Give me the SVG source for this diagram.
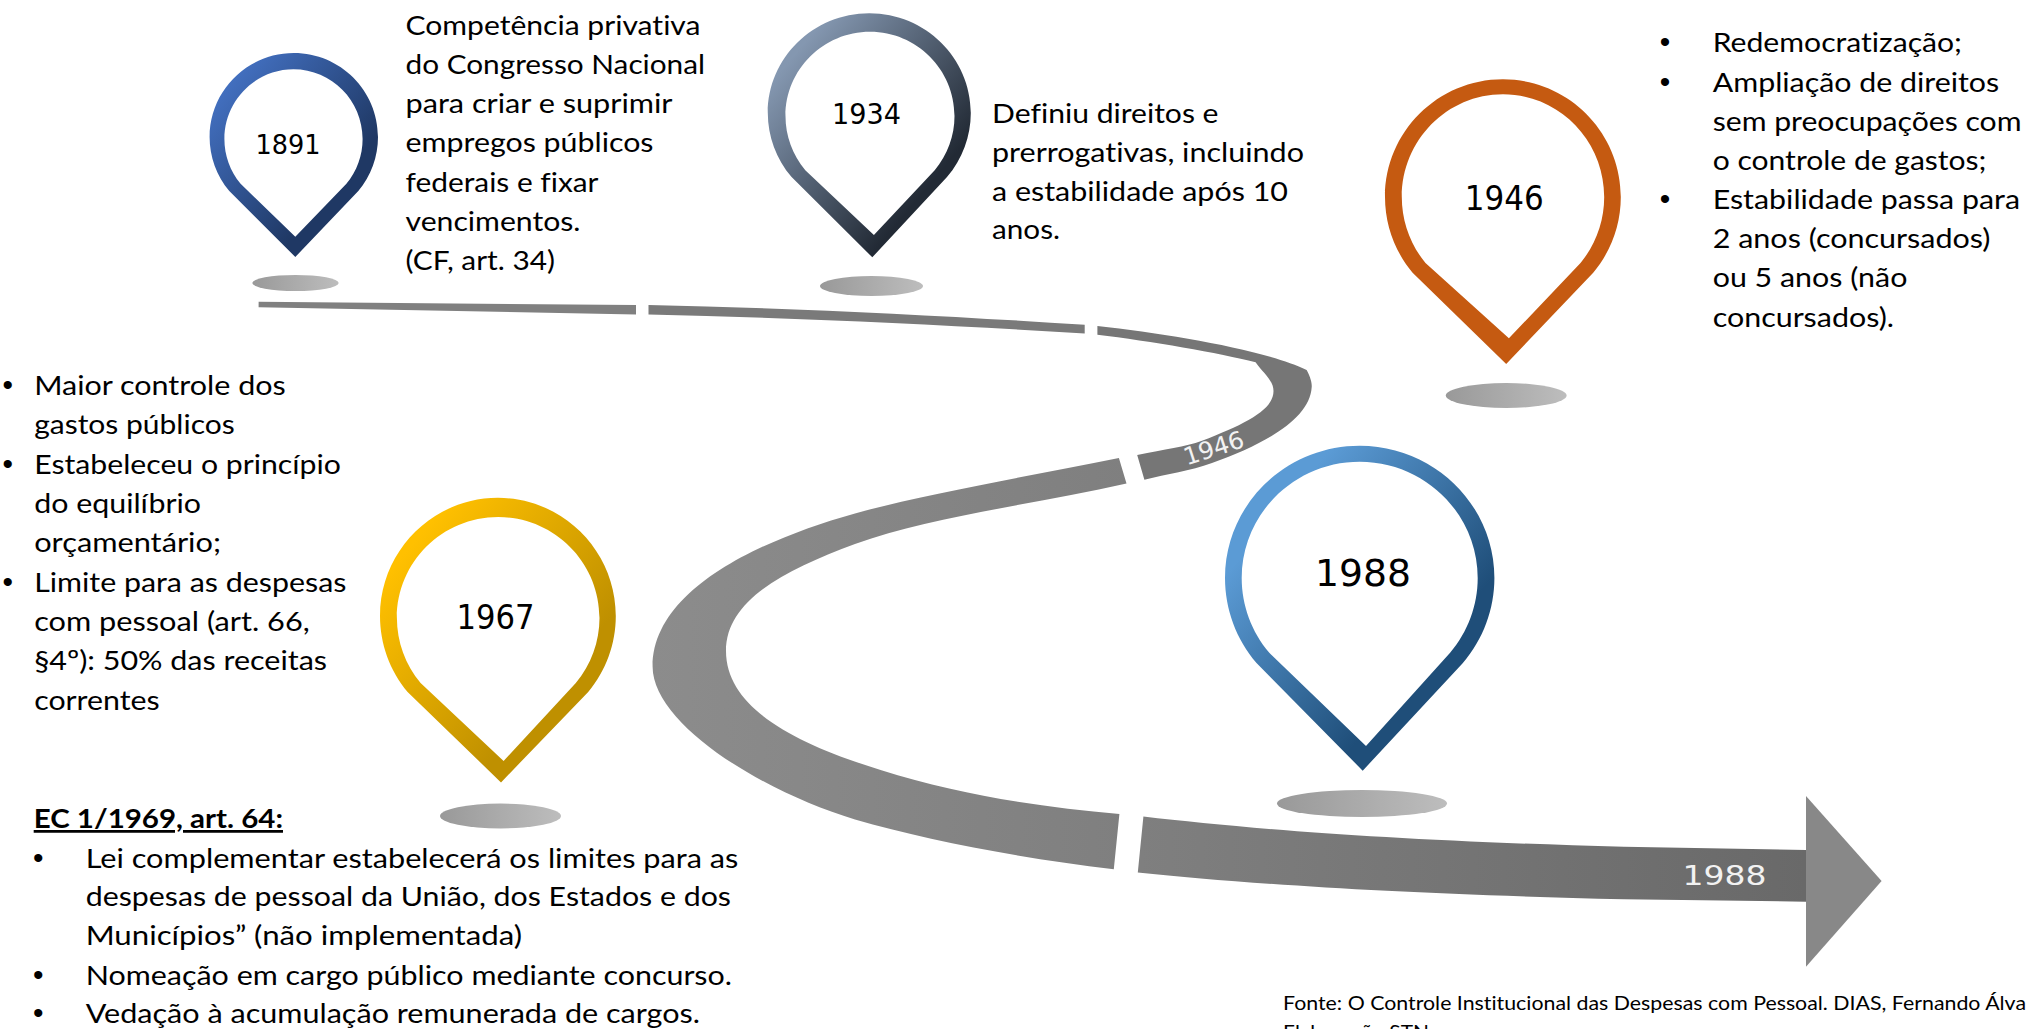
<svg xmlns="http://www.w3.org/2000/svg" width="2026" height="1029" viewBox="0 0 2026 1029">
<style>
text{font-family:"Lato","Noto Sans",sans-serif;fill:#000;font-variant-ligatures:none}
.b{font-size:27.5px}
.d{font-family:"Liberation Sans",sans-serif;font-size:30px}
.y{font-family:"DejaVu Sans",sans-serif}
.w{fill:#f2f2f2}
.f{font-size:20px}
</style>
<defs>
<linearGradient id="g1891" x1="0" y1="0" x2="1" y2="1"><stop offset=".1" stop-color="#4472c4"/><stop offset=".7" stop-color="#1f3864"/></linearGradient>
<linearGradient id="g1934" x1="0" y1="0" x2="1" y2="1"><stop offset=".15" stop-color="#8497b0"/><stop offset=".75" stop-color="#222a35"/></linearGradient>
<linearGradient id="g1967" x1="0" y1="0" x2="1" y2="1"><stop offset=".15" stop-color="#ffc000"/><stop offset=".7" stop-color="#bf9000"/></linearGradient>
<linearGradient id="g1988" x1="0" y1="0" x2="1" y2="1"><stop offset=".2" stop-color="#5b9bd5"/><stop offset=".7" stop-color="#1f4e79"/></linearGradient>
<linearGradient id="sh"><stop offset="0" stop-color="#999"/><stop offset="1" stop-color="#bdbdbd"/></linearGradient>
<linearGradient id="mid" gradientUnits="userSpaceOnUse" x1="650" y1="0" x2="1130" y2="0"><stop offset="0" stop-color="#8c8c8c"/><stop offset="1" stop-color="#7f7f7f"/></linearGradient>
<linearGradient id="end" gradientUnits="userSpaceOnUse" x1="1140" y1="0" x2="1806" y2="0"><stop offset="0" stop-color="#7f7f7f"/><stop offset="1" stop-color="#696969"/></linearGradient>
</defs>
<g id="connectors">
<path fill="#808080" d="M258.6 301.7 L636 305 V314.4 L258.6 307.3Z"/>
<path fill="#7a7a7a" d="M648.5 305 C800 308 950 316 1084.7 324.8 V333.6 C950 325 800 318 648.5 314.4Z"/>
<path fill="#767676" d="M1097.4 326 C1170 334 1265 350 1306.6 370 C1311 378 1312 384 1311.7 387 C1310 420 1262 445 1212 463 C1190 471 1167 474 1144.4 479.8 L1137.2 454.9 C1165 449 1185 447 1202 440.7 C1245 424 1273.5 410 1273.5 391 C1273.5 380 1262 372 1255.6 362.3 C1220 353 1150 341 1097.4 334.7Z"/>
<path fill="url(#mid)" d="M1118.9 458 C1030 476 925 493.8 855 513.4 C755 541.4 652.6 591.5 652.6 666.5 C652.6 725 765 792.6 855 819.6 C925 840 1020 858 1113.8 869.3 L1119.4 813.9 C1040 807 960 795 880.6 770 C800 745 726 710 726 651 C726 600 785 570 855 544 C930 517 1030 505 1126.5 483.6Z"/>
<path fill="url(#end)" d="M1143.4 816.5 C1250 829 1400 841 1624 846.7 L1806 850 V901.7 L1624 899.3 C1400 894 1250 884 1137.8 872.4Z"/>
<path fill="#888" d="M1806 796 L1881.6 881 L1806 966.7Z"/>
</g>
<g id="pin-1891">
<ellipse cx="295.5" cy="283" rx="43.2" ry="8" fill="url(#sh)"/>
<path fill="url(#g1891)" fill-rule="evenodd" d="M293.8 53 C340.3 53 378 90.6 378 137 C378 156.7 371 175.9 358.3 191 L295.3 257 L229.3 191 C216.6 175.9 209.6 156.7 209.6 137 C209.6 90.6 247.3 53 293.8 53Z M293.5 69.3 C331.6 69.3 362.6 100.5 362.6 139 C362.6 155.4 356.9 171.3 346.4 183.8 L295.3 236.7 L240.6 183.8 C230.1 171.3 224.4 155.4 224.4 139 C224.4 100.5 255.4 69.3 293.5 69.3Z"/>
<text class="y" x="255.5" y="154.3" font-size="27" textLength="65" lengthAdjust="spacingAndGlyphs">1891</text>
</g>
<g id="pin-1934">
<ellipse cx="871.5" cy="286" rx="51.5" ry="10" fill="url(#sh)"/>
<path fill="url(#g1934)" fill-rule="evenodd" d="M869.3 13.3 C925.3 13.3 970.8 58 970.8 113 C970.8 136.4 962.4 159.2 947 177.1 L872.3 257.3 L791.6 177.1 C776.2 159.2 767.8 136.4 767.8 113 C767.8 58 813.3 13.3 869.3 13.3Z M870 31.7 C916.6 31.7 954.5 69.5 954.5 116 C954.5 135.8 947.5 155 934.7 170.2 L873.9 235 L805.3 170.2 C792.5 155 785.5 135.8 785.5 116 C785.5 69.5 823.4 31.7 870 31.7Z"/>
<text class="y" x="832" y="124" font-size="28" textLength="69" lengthAdjust="spacingAndGlyphs">1934</text>
</g>
<g id="pin-1946">
<ellipse cx="1506.2" cy="395.5" rx="60.4" ry="12.5" fill="url(#sh)"/>
<path fill="#c55a11" fill-rule="evenodd" d="M1502.9 79.3 C1567.9 79.3 1620.8 132 1620.8 197 C1620.8 224.7 1611 251.5 1593.2 272.7 L1506.2 364 L1412.6 272.7 C1394.8 251.5 1385 224.7 1385 197 C1385 132 1437.9 79.3 1502.9 79.3Z M1503 94.3 C1558.9 94.3 1604.2 140.3 1604.2 197 C1604.2 221.1 1595.8 244.5 1580.5 263 L1508.9 338.3 L1425.5 263 C1410.2 244.5 1401.8 221.1 1401.8 197 C1401.8 140.3 1447.1 94.3 1503 94.3Z"/>
<text class="y" x="1464.7" y="210" font-size="33" textLength="79" lengthAdjust="spacingAndGlyphs">1946</text>
</g>
<g id="pin-1967">
<ellipse cx="500.5" cy="816" rx="60.5" ry="12.4" fill="url(#sh)"/>
<path fill="url(#g1967)" fill-rule="evenodd" d="M497.9 497.8 C562.9 497.8 615.8 550.8 615.8 616 C615.8 643.8 606 670.7 588.2 692 L501 782.4 L407.6 692 C389.8 670.7 380 643.8 380 616 C380 550.8 432.9 497.8 497.9 497.8Z M498.2 517 C554.1 517 599.5 562.2 599.5 618 C599.5 641.7 591.1 664.8 575.8 682.9 L503.6 761 L420.6 682.9 C405.3 664.8 396.9 641.7 396.9 618 C396.9 562.2 442.3 517 498.2 517Z"/>
<text class="y" x="456.6" y="628.8" font-size="33" textLength="78" lengthAdjust="spacingAndGlyphs">1967</text>
</g>
<g id="pin-1988">
<ellipse cx="1362" cy="803.5" rx="85" ry="13.5" fill="url(#sh)"/>
<path fill="url(#g1988)" fill-rule="evenodd" d="M1359.7 445.7 C1434.1 445.7 1494.4 505 1494.4 578 C1494.4 609.1 1483.2 639.3 1462.9 663 L1362.7 770.7 L1256.5 663 C1236.2 639.3 1225 609.1 1225 578 C1225 505 1285.3 445.7 1359.7 445.7Z M1359.7 461.7 C1424.8 461.7 1477.7 513.8 1477.7 578 C1477.7 605.3 1467.9 631.8 1450.1 652.8 L1366 746 L1269.3 652.8 C1251.5 631.8 1241.7 605.3 1241.7 578 C1241.7 513.8 1294.6 461.7 1359.7 461.7Z"/>
<text class="y" x="1315" y="586" font-size="38" textLength="96" lengthAdjust="spacingAndGlyphs">1988</text>
</g>
<g id="band-labels">
<text class="y w" transform="translate(1186.7 465.6) rotate(-18)" font-size="24" textLength="62" lengthAdjust="spacingAndGlyphs">1946</text>
<text class="y w" x="1682.6" y="885" font-size="26.5" textLength="84" lengthAdjust="spacingAndGlyphs">1988</text>
</g>
<g id="text-1891" class="b">
<text x="405.5" y="35" textLength="295" lengthAdjust="spacingAndGlyphs">Competência privativa</text>
<text x="405.5" y="74" textLength="299.5" lengthAdjust="spacingAndGlyphs">do Congresso Nacional</text>
<text x="405.5" y="113.3" textLength="267" lengthAdjust="spacingAndGlyphs">para criar e suprimir</text>
<text x="405.5" y="152.4" textLength="248" lengthAdjust="spacingAndGlyphs">empregos públicos</text>
<text x="405.5" y="191.7" textLength="193" lengthAdjust="spacingAndGlyphs">federais e fixar</text>
<text x="405.5" y="230.7" textLength="175" lengthAdjust="spacingAndGlyphs">vencimentos.</text>
<text x="405.5" y="270" textLength="149.5" lengthAdjust="spacingAndGlyphs">(CF, art. 34)</text>
</g>
<g id="text-1934" class="b">
<text x="992" y="122.7" textLength="226.5" lengthAdjust="spacingAndGlyphs">Definiu direitos e</text>
<text x="992" y="161.7" textLength="312" lengthAdjust="spacingAndGlyphs">prerrogativas, incluindo</text>
<text x="992" y="200.7" textLength="296" lengthAdjust="spacingAndGlyphs">a estabilidade após 10</text>
<text x="992" y="239.3" textLength="68" lengthAdjust="spacingAndGlyphs">anos.</text>
</g>
<g id="text-1946" class="b">
<text class="d" x="1659.8" y="51.7">•</text><text x="1712.7" y="51.7" textLength="249.3" lengthAdjust="spacingAndGlyphs">Redemocratização;</text>
<text class="d" x="1659.8" y="91.7">•</text><text x="1712.7" y="91.7" textLength="286.5" lengthAdjust="spacingAndGlyphs">Ampliação de direitos</text>
<text x="1712.7" y="130.7" textLength="308.8" lengthAdjust="spacingAndGlyphs">sem preocupações com</text>
<text x="1712.7" y="170" textLength="273.8" lengthAdjust="spacingAndGlyphs">o controle de gastos;</text>
<text class="d" x="1659.8" y="209.3">•</text><text x="1712.7" y="209.3" textLength="307.3" lengthAdjust="spacingAndGlyphs">Estabilidade passa para</text>
<text x="1712.7" y="248.3" textLength="277.8" lengthAdjust="spacingAndGlyphs">2 anos (concursados)</text>
<text x="1712.7" y="287.3" textLength="194.7" lengthAdjust="spacingAndGlyphs">ou 5 anos (não</text>
<text x="1712.7" y="326.7" textLength="181.3" lengthAdjust="spacingAndGlyphs">concursados).</text>
</g>
<g id="text-1967" class="b">
<text class="d" x="2.4" y="395">•</text><text x="34.2" y="395" textLength="251.5" lengthAdjust="spacingAndGlyphs">Maior controle dos</text>
<text x="34.2" y="433.8" textLength="200.5" lengthAdjust="spacingAndGlyphs">gastos públicos</text>
<text class="d" x="2.4" y="473.5">•</text><text x="34.2" y="473.5" textLength="306.6" lengthAdjust="spacingAndGlyphs">Estabeleceu o princípio</text>
<text x="34.2" y="512.7" textLength="166.8" lengthAdjust="spacingAndGlyphs">do equilíbrio</text>
<text x="34.2" y="552" textLength="186.8" lengthAdjust="spacingAndGlyphs">orçamentário;</text>
<text class="d" x="2.4" y="591.7">•</text><text x="34.2" y="591.7" textLength="312.2" lengthAdjust="spacingAndGlyphs">Limite para as despesas</text>
<text x="34.2" y="631" textLength="275.5" lengthAdjust="spacingAndGlyphs">com pessoal (art. 66,</text>
<text x="34.2" y="670" textLength="292.8" lengthAdjust="spacingAndGlyphs">§4º): 50% das receitas</text>
<text x="34.2" y="709.8" textLength="125.5" lengthAdjust="spacingAndGlyphs">correntes</text>
</g>
<g id="text-1969" class="b">
<text x="33.7" y="828" font-weight="700" text-decoration="underline" textLength="249.3" lengthAdjust="spacingAndGlyphs">EC 1/1969, art. 64:</text>
<text class="d" x="33" y="867.7">•</text><text x="85.7" y="867.7" textLength="652.6" lengthAdjust="spacingAndGlyphs">Lei complementar estabelecerá os limites para as</text>
<text x="85.7" y="906" textLength="645.3" lengthAdjust="spacingAndGlyphs">despesas de pessoal da União, dos Estados e dos</text>
<text x="85.7" y="945.3" textLength="436.3" lengthAdjust="spacingAndGlyphs">Municípios” (não implementada)</text>
<text class="d" x="33" y="985">•</text><text x="85.7" y="985" textLength="646.3" lengthAdjust="spacingAndGlyphs">Nomeação em cargo público mediante concurso.</text>
<text class="d" x="33" y="1023.4">•</text><text x="85.7" y="1023.4" textLength="614.3" lengthAdjust="spacingAndGlyphs">Vedação à acumulação remunerada de cargos.</text>
</g>
<g id="source" class="f">
<text x="1283" y="1009.5" textLength="743" lengthAdjust="spacingAndGlyphs">Fonte: O Controle Institucional das Despesas com Pessoal. DIAS, Fernando Álva</text>
<text x="1283" y="1039" textLength="146" lengthAdjust="spacingAndGlyphs">Elaboração STN</text>
</g>
</svg>
